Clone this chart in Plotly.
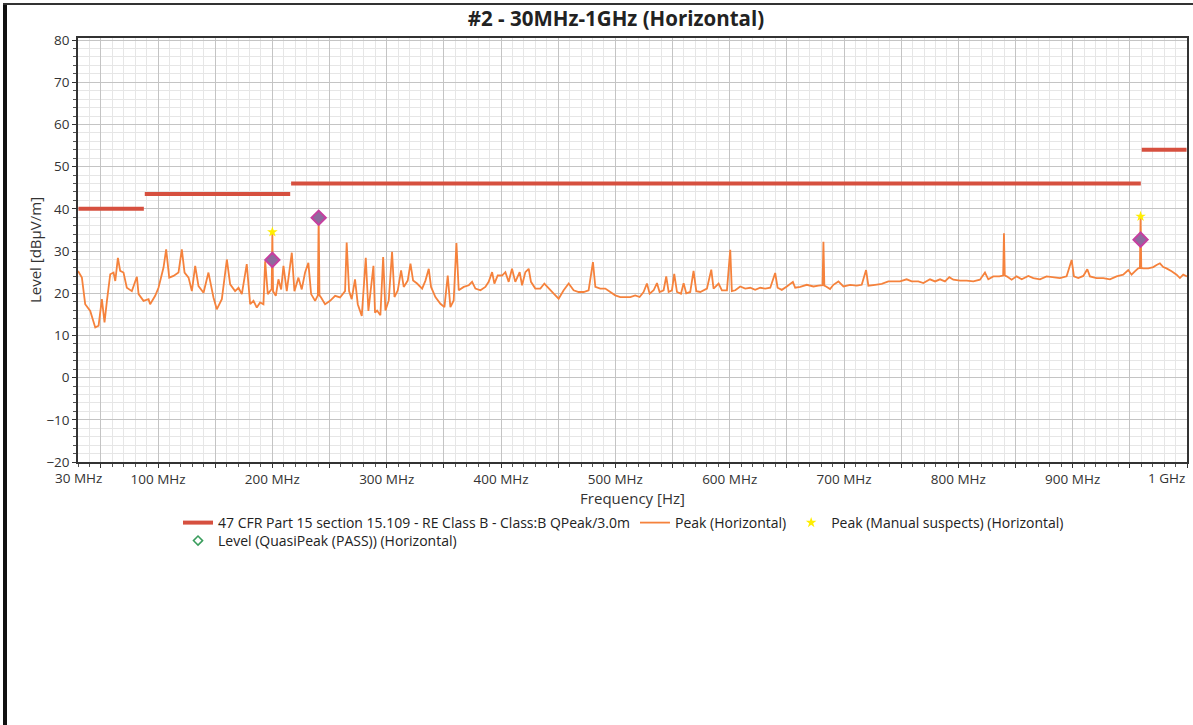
import plotly.graph_objects as go

# ---------------- data ----------------
peak_freq_mhz = [
    30, 33.4, 36.3, 40.7, 45.1, 48, 50.9, 53.2, 55.3, 58.2, 61.1, 62.6, 64.9, 66.9, 69.8, 72.7,
    77.1, 81.5, 83, 87.3, 91.7, 93.1, 97.5, 100.4, 104.8, 107.1, 109.8, 113.5, 117.9, 120.8,
    123.2, 126.7, 129.6, 132.5, 135.4, 139.8, 144.1, 148.5, 151.4, 155.8, 160.2, 163.1, 167.4,
    170.4, 173.3, 177.6, 180.6, 183.5, 186.4, 189.3, 192.2, 193.7, 196, 198.9, 199.4, 200, 200.6,
    203, 205.3, 207.7, 209.7, 212.6, 217, 219.3, 222.8, 225.7, 228.6, 231.5, 233.9, 237.4, 239.8,
    240.5, 241.2, 242.6, 246.1, 250.5, 254.9, 259.2, 263.6, 265, 267.1, 269.4, 272.3, 274.7,
    278.2, 281.7, 284, 288.4, 289.8, 291.6, 294.5, 296.9, 298.9, 301.8, 304.7, 306.8, 309.7,
    312.6, 314.9, 318.4, 320.8, 323.1, 326.6, 331, 333.9, 336.8, 338.8, 342.6, 347, 350.5, 353.4,
    355.7, 358.6, 361, 363, 367.4, 371.8, 374.7, 377.6, 382, 386.3, 389.2, 392.2, 394.2, 397.1,
    400.9, 403.8, 406.7, 409.6, 412.5, 416.3, 418.4, 421.3, 424.2, 426.2, 430, 434.4, 437.9,
    441.7, 446.1, 450.4, 454.8, 459.2, 463.5, 467.9, 472.3, 476.6, 480.4, 482.5, 486.8, 491.2,
    495.6, 499.9, 504.3, 508.7, 513.1, 517.4, 521.2, 524.7, 527.6, 530, 533.5, 536.4, 538.7,
    542.2, 544.5, 546.6, 549.5, 551.5, 553.9, 557.4, 559.7, 562, 565.5, 568.4, 570.8, 574.3,
    580.1, 583.9, 585.9, 590.3, 593.2, 597.6, 600.5, 601.9, 604.9, 609.2, 613.6, 618, 622.3,
    626.7, 631.1, 635.5, 639.8, 641.9, 645.6, 650, 655.3, 657.3, 661.7, 667.4, 673.3, 677.6,
    681.2, 682, 682.8, 684.3, 687.8, 690.7, 695.1, 699.5, 705.3, 711.1, 715.5, 719.3, 721.3,
    727.2, 733, 738.8, 743.2, 749, 754.8, 759.2, 765, 769.4, 775.2, 779.6, 784, 788.3, 792.1,
    795.6, 801.5, 807.3, 813.1, 818.9, 823.3, 826.2, 830.6, 835.8, 839.2, 839.9, 840.6, 842.3,
    846.6, 851, 855.4, 861.2, 865.6, 871.4, 877.2, 883, 888.9, 894.7, 899.1, 901.1, 904.9,
    909.3, 912.8, 915.1, 920.9, 926.8, 932.6, 938.4, 944.2, 948.6, 951.5, 954.4, 957.3, 958.8,
    959.4, 960.0, 961.7, 966.1, 970.5, 973.4, 976.3, 979.2, 982.1, 986.5, 990.9, 993.8, 996.7,
    1000,
]
peak_level_dbuv = [
    25.3, 23.7, 17.4, 15.8, 11.9, 12.3, 18.6, 13.1, 18.2, 24.5, 24.9, 22.9, 28.4, 25.3, 24.9, 21.3,
    20.5, 23.9, 19.8, 18.2, 18.6, 17.4, 19.4, 21.3, 26.1, 30.4, 23.7, 24.1, 24.9, 30.4,
    24.9, 23.7, 20.5, 26.5, 21.7, 20.1, 24.9, 19.0, 16.2, 18.6, 28.0, 22.1, 20.5,
    21.3, 19.8, 26.9, 17.4, 18.2, 16.6, 17.8, 17.4, 27.6, 19.8, 20.9, 21.0, 34.3, 20.5,
    19.4, 23.3, 20.9, 26.5, 20.5, 29.6, 20.5, 23.7, 20.9, 24.9, 27.2, 19.8, 18.2, 19.5,
    37.9, 19.5, 19.0, 17.4, 18.2, 19.4, 19.0, 20.5, 32.0, 20.5, 18.6, 23.3, 17.4,
    14.6, 28.4, 15.8, 26.5, 15.4, 15.9, 14.8, 28.6, 15.9, 18.3, 29.8, 19.1, 20.7,
    25.4, 21.5, 23.0, 27.0, 23.0, 22.3, 21.1, 23.0, 25.8, 21.5, 19.1, 17.5, 16.7, 24.2,
    16.7, 18.3, 31.9, 20.7, 21.5, 21.9, 22.7, 21.1, 20.7, 21.5, 22.7, 25.0, 22.3, 24.2,
    24.2, 25.0, 22.7, 25.8, 22.7, 25.0, 21.9, 25.0, 25.8, 22.7, 21.1, 21.1, 22.3,
    21.1, 19.9, 18.7, 20.7, 22.3, 20.7, 20.3, 20.3, 20.7, 27.4, 21.5, 21.1, 21.1,
    20.3, 19.5, 19.1, 19.1, 19.1, 19.5, 19.1, 20.3, 22.3, 19.9, 20.7, 22.4, 20.3,
    20.7, 24.0, 20.3, 20.7, 24.6, 20.3, 19.9, 22.4, 20.0, 20.3, 25.3, 20.5, 20.3,
    21.1, 25.6, 21.1, 22.3, 20.7, 20.7, 30.3, 20.5, 20.7, 21.6, 21.1, 21.3, 20.8,
    21.3, 21.1, 21.3, 24.8, 21.3, 20.8, 21.6, 22.7, 21.3, 21.5, 22.0, 21.6, 21.8,
    21.9, 32.2, 21.8, 21.6, 21.0, 22.0, 22.8, 21.6, 22.0, 21.8, 22.0, 25.5, 21.8,
    22.0, 22.2, 22.8, 22.8, 22.8, 23.3, 22.8, 22.8, 22.4, 23.3, 22.8, 23.3, 22.8, 23.8,
    23.2, 23.0, 23.0, 22.8, 23.2, 24.9, 23.3, 24.0, 24.0, 24.2, 34.2, 24.2, 24.0,
    23.2, 24.0, 23.3, 24.1, 23.6, 23.3, 24.0, 23.8, 23.6, 24.0, 27.9, 24.0, 23.6,
    24.1, 25.7, 24.0, 23.6, 23.6, 23.3, 24.0, 24.4, 25.5, 24.4, 25.2, 25.9, 26.0,
    38.2, 26.0, 25.9, 25.9, 26.2, 26.7, 27.1, 26.2, 25.9, 25.2, 24.4, 23.6, 24.4,
    24.0,
]

limit_start_mhz = [30, 88, 216, 960]
limit_stop_mhz = [88, 216, 960, 1000]
limit_level_dbuv = [40, 43.5, 46, 54]

suspect_freq_mhz = [200, 240.5, 959.4]
suspect_level_dbuv = [34.5, 38.2, 38.2]

qp_freq_mhz = [200, 240.5, 959.4]
qp_level_dbuv = [27.9, 37.9, 32.7]

x_grid_mhz = list(range(50, 1001, 50))

# ---------------- figure ----------------
FONT = "Open Sans"
TICK_SIZE = 13.5
W, H = 1193, 725
L, R, T, B = 78, 6, 38, 263
PW, PH = W - L - R, H - T - B


def px_x(p):
    return (p - L) / PW


def px_y(p):
    return (H - B - p) / PH


limit_x, limit_y = [], []
for a, b, lv in zip(limit_start_mhz, limit_stop_mhz, limit_level_dbuv):
    limit_x += [a + 0.4, b - 0.4, None]
    limit_y += [lv, lv, None]

fig = go.Figure()
fig.add_trace(go.Scatter(
    x=limit_x, y=limit_y, mode="lines",
    line=dict(color="#d6503f", width=4),
    name="47 CFR Part 15 section 15.109 - RE Class B - Class:B QPeak/3.0m",
    legend="legend",
))
fig.add_trace(go.Scatter(
    x=peak_freq_mhz, y=peak_level_dbuv, mode="lines",
    line=dict(color="#f5823c", width=1.8),
    name="Peak (Horizontal)", legend="legend",
))
fig.add_trace(go.Scatter(
    x=suspect_freq_mhz, y=suspect_level_dbuv, mode="markers",
    marker=dict(symbol="star", size=8, color="#ffee00", line=dict(width=0)),
    name="Peak (Manual suspects) (Horizontal)", legend="legend",
))
fig.add_trace(go.Scatter(
    x=qp_freq_mhz, y=qp_level_dbuv, mode="markers",
    marker=dict(symbol="diamond", size=11, color="#8e6a9e",
                line=dict(color="#c63fa0", width=2)),
    name="Level (QuasiPeak (PASS)) (Horizontal)", showlegend=False,
))
fig.add_trace(go.Scatter(
    x=[None], y=[None], mode="markers",
    marker=dict(symbol="diamond-open", size=7, color="#3a9d5d", line=dict(width=1.5)),
    name="Level (QuasiPeak (PASS)) (Horizontal)", legend="legend2",
))

legend_font = dict(family=FONT, size=14, color="#222222")
fig.update_layout(
    width=W, height=H,
    margin=dict(l=L, r=R, t=T, b=B, autoexpand=False),
    paper_bgcolor="white", plot_bgcolor="white",
    font=dict(family=FONT, size=TICK_SIZE, color="#333333"),
    title=dict(text="<b>#2 - 30MHz-1GHz (Horizontal)</b>",
               x=616 / W, xref="container", xanchor="center",
               y=1 - 19 / H, yref="container", yanchor="middle",
               font=dict(family=FONT, size=20.5, color="#222222")),
    showlegend=True,
    legend=dict(orientation="h", x=px_x(178), xanchor="left", y=px_y(507), yanchor="top",
                font=legend_font, bgcolor="rgba(0,0,0,0)"),
    legend2=dict(orientation="h", x=px_x(178), xanchor="left", y=px_y(525), yanchor="top",
                 font=legend_font, bgcolor="rgba(0,0,0,0)"),
)

fig.update_xaxes(
    range=[30, 1000],
    tickmode="array", tickvals=x_grid_mhz,
    ticktext=[("%d MHz" % v) if v % 100 == 0 and v < 1000 else "" for v in x_grid_mhz],
    showgrid=True, gridcolor="#c4c4c4", gridwidth=1,
    showline=True, linecolor="#333333", linewidth=1.5, mirror=True,
    ticks="outside", ticklen=4, tickcolor="#333333",
    tickfont=dict(family=FONT, size=TICK_SIZE, color="#333333"),
    minor=dict(tickmode="linear", tick0=0, dtick=10, showgrid=True,
               gridcolor="#e6e6e6", ticks="outside", ticklen=3, tickcolor="#555555"),
    title=dict(text="Frequency [Hz]", font=dict(family=FONT, size=15, color="#333333"),
               standoff=5),
    zeroline=False, automargin=False,
)
fig.update_yaxes(
    range=[-20, 80.5],
    tickmode="linear", tick0=0, dtick=10,
    showgrid=True, gridcolor="#c4c4c4", gridwidth=1,
    showline=True, linecolor="#333333", linewidth=1.5, mirror=True,
    ticks="outside", ticklen=4, tickcolor="#333333",
    tickfont=dict(family=FONT, size=TICK_SIZE, color="#333333"),
    minor=dict(tickmode="linear", tick0=0, dtick=2, showgrid=True,
               gridcolor="#e6e6e6", ticks="outside", ticklen=3, tickcolor="#555555"),
    title=dict(text="Level [dBµV/m]", font=dict(family=FONT, size=15, color="#333333"),
               standoff=1),
    zeroline=False, automargin=False,
)

# tick labels that plotly cannot place itself (first one and right-aligned last one)
fig.add_annotation(x=30, xref="x", y=0, yref="paper", yanchor="middle", xanchor="center",
                   yshift=-16, text="30 MHz", showarrow=False,
                   font=dict(family=FONT, size=TICK_SIZE, color="#333333"))
fig.add_annotation(x=1000, xref="x", y=0, yref="paper", yanchor="middle", xanchor="right",
                   yshift=-16, text="1 GHz", showarrow=False,
                   font=dict(family=FONT, size=TICK_SIZE, color="#333333"))

# outer frame of the report picture
fig.add_shape(type="line", xref="paper", yref="paper",
              x0=px_x(5), x1=px_x(5), y0=px_y(3), y1=px_y(H + 20),
              line=dict(color="#111111", width=4))
fig.add_shape(type="line", xref="paper", yref="paper",
              x0=px_x(3), x1=px_x(W + 20), y0=px_y(4), y1=px_y(4),
              line=dict(color="#333333", width=2))

fig.write_html("out.html", config={"displayModeBar": False},
               post_script="document.body.style.margin='0px';")
